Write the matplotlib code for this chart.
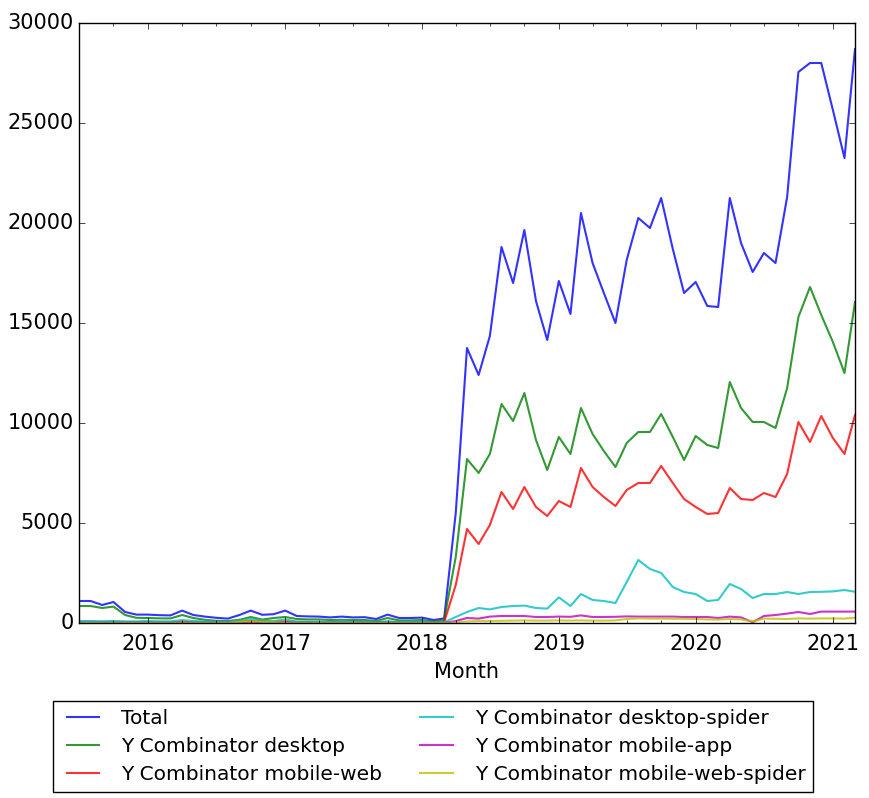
import matplotlib
matplotlib.use("Agg")
import matplotlib.pyplot as plt
import matplotlib.dates as mdates
import pandas as pd

months = pd.date_range("2015-07-01", periods=69, freq="MS")

total = [1100, 1100, 900, 1050, 550, 420,
         420, 390, 380, 620, 400, 320, 260, 220, 400, 620, 410, 440,
         620, 350, 330, 320, 280, 320, 280, 290, 200, 420, 250, 250,
         270, 150, 230, 5500, 13750, 12400, 14350, 18800, 17000, 19650, 16100, 14150,
         17100, 15450, 20500, 18000, 16500, 15000, 18150, 20250, 19750, 21250, 18700, 16500,
         17050, 15850, 15800, 21250, 19000, 17550, 18500, 18000, 21300, 27550, 28000, 28000,
         25650, 23250, 28700]
desktop = [850, 850, 750, 820, 400, 260,
           250, 230, 230, 400, 250, 160, 110, 100, 160, 300, 170, 250,
           300, 200, 180, 180, 150, 160, 150, 150, 100, 250, 130, 130,
           150, 80, 150, 3300, 8200, 7500, 8450, 10950, 10100, 11500, 9150, 7650,
           9300, 8450, 10750, 9450, 8600, 7800, 9000, 9550, 9550, 10450, 9300, 8150,
           9350, 8900, 8750, 12050, 10750, 10050, 10050, 9750, 11750, 15300, 16800, 15400,
           14050, 12500, 16050]
mobile_web = [60, 60, 60, 60, 50, 50,
              50, 50, 50, 60, 50, 50, 50, 50, 80, 100, 90, 60,
              80, 60, 50, 50, 50, 50, 50, 50, 40, 60, 40, 40,
              40, 30, 40, 1900, 4700, 3950, 4900, 6550, 5700, 6800, 5800, 5350,
              6100, 5800, 7750, 6800, 6300, 5850, 6650, 7000, 7000, 7850, 7000, 6200,
              5800, 5450, 5500, 6750, 6200, 6150, 6500, 6300, 7450, 10050, 9050, 10350,
              9250, 8450, 10400]
desktop_spider = [100, 100, 80, 100, 80, 80,
                  100, 80, 80, 150, 100, 80, 60, 60, 120, 200, 120, 100,
                  180, 60, 70, 60, 50, 80, 50, 60, 40, 80, 50, 60,
                  60, 30, 40, 300, 550, 750, 680, 800, 850, 870, 750, 720,
                  1280, 850, 1450, 1150, 1100, 1000, 2050, 3150, 2700, 2500, 1800, 1550,
                  1450, 1100, 1150, 1950, 1700, 1250, 1450, 1450, 1550, 1450, 1550, 1560,
                  1580, 1650, 1560]
mobile_app = [0, 0, 0, 0, 0, 0,
              0, 0, 0, 0, 0, 0, 0, 0, 0, 0, 0, 0,
              0, 0, 0, 0, 0, 0, 0, 0, 0, 0, 0, 0,
              0, 0, 0, 100, 250, 220, 320, 350, 350, 350, 300, 300,
              320, 310, 380, 300, 300, 310, 330, 320, 320, 320, 320, 300,
              300, 300, 250, 320, 280, 40, 350, 400, 470, 550, 450, 570,
              570, 570, 570]
mobile_web_spider = [0, 0, 0, 0, 0, 0,
                     0, 0, 0, 0, 0, 0, 0, 0, 60, 80, 60, 40,
                     0, 0, 0, 0, 0, 0, 0, 0, 0, 0, 0, 0,
                     0, 0, 0, 30, 80, 100, 100, 110, 120, 130, 120, 120,
                     130, 120, 130, 120, 120, 130, 200, 230, 220, 220, 210, 210,
                     200, 180, 170, 200, 180, 80, 220, 210, 200, 230, 220, 230,
                     230, 220, 260]

series = [
    ("Total", total, "b"),
    ("Y Combinator desktop", desktop, "g"),
    ("Y Combinator mobile-web", mobile_web, "r"),
    ("Y Combinator desktop-spider", desktop_spider, "c"),
    ("Y Combinator mobile-app", mobile_app, "m"),
    ("Y Combinator mobile-web-spider", mobile_web_spider, "y"),
]

plt.style.use("classic")
plt.rcParams.update({
    "font.family": "DejaVu Sans",
    "font.size": 15,
    "figure.facecolor": "white",
    "savefig.facecolor": "white",
})

fig = plt.figure(figsize=(8.7, 7.98), dpi=100)
ax = fig.add_axes([79 / 870, 1 - 623 / 798, 776 / 870, 600 / 798])

for label, vals, col in series:
    ax.plot(months, vals, color=col, lw=1.5, alpha=0.8, label=label)

ax.set_xlim(months[0], months[-1])
ax.set_ylim(0, 30000)
ax.set_yticks(range(0, 30001, 5000))
ax.xaxis.set_major_locator(mdates.YearLocator())
ax.xaxis.set_major_formatter(mdates.DateFormatter("%Y"))
ax.xaxis.set_minor_locator(mdates.MonthLocator(bymonth=(4, 7, 10)))
ax.tick_params(labelsize=15)
ax.tick_params(axis="x", pad=8)
ax.set_xlabel("Month", fontsize=15, labelpad=6)

ax.legend(loc="upper center", ncol=2, fontsize=14.5, labelspacing=0.45,
          handlelength=2.2, columnspacing=1.6,
          bbox_to_anchor=(433 / 870, 1 - 691 / 798),
          bbox_transform=fig.transFigure)

fig.savefig("out.png", dpi=100)
